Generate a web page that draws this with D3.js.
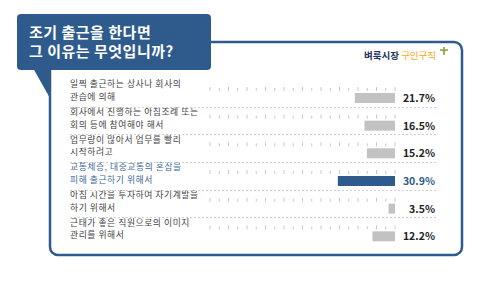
<!DOCTYPE html>
<html>
<head>
<meta charset="utf-8">
<script src="https://cdn.jsdelivr.net/npm/d3@7"></script>
<style>
body { margin:0; background:#fff; }
text { font-family:"Noto Sans CJK KR", sans-serif; }
</style>
</head>
<body>
<svg id="chart"></svg>
<script>
var titleLines = ["조기 출근을 한다면", "그 이유는 무엇입니까?"]
var labelLines = [
    ["일찍 출근하는 상사나 회사의", "관습에 의해"],
    ["회사에서 진행하는 아침조례 또는", "회의 등에 참여해야 해서"],
    ["업무량이 많아서 업무를 빨리", "시작하려고"],
    ["교통체증, 대중교통의 혼잡을", "피해 출근하기 위해서"],
    ["아침 시간을 투자하여 자기계발을", "하기 위해서"],
    ["근태가 좋은 직원으로의 이미지", "관리를 위해서"]
]
var values = [21.7, 16.5, 15.2, 30.9, 3.5, 12.2]
var highlight = [false, false, false, true, false, false]
var tickValues = d3.range(0, 101, 5)

var screen = {width:480, height:283}
var blue = "#2f5b8c"

var svg = d3.select("#chart")
    .attr("width", screen.width)
    .attr("height", screen.height)

// outer frame
svg.append("rect")
    .attr("x", 50).attr("y", 42)
    .attr("width", 412).attr("height", 213)
    .attr("rx", 8)
    .attr("fill", "#fff")
    .attr("stroke", blue)
    .attr("stroke-width", 2.5)

// speech bubble title
svg.append("path")
    .attr("d", "M33,68 L51,68 L51,100 Z")
    .attr("fill", blue)
svg.append("rect")
    .attr("x", 17).attr("y", 14)
    .attr("width", 194).attr("height", 56)
    .attr("rx", 4)
    .attr("fill", blue)

svg.selectAll(".title")
    .data(titleLines)
    .enter()
    .append("text")
    .attr("class", "title")
    .attr("x", 29)
    .attr("y", function(d, i) { return 38 + i * 19 })
    .attr("fill", "#fff")
    .attr("font-size", 15)
    .attr("font-weight", "bold")
    .attr("letter-spacing", 0.5)
    .text(function(d) { return d })

// logo
var logo = svg.append("text")
    .attr("x", 364).attr("y", 59)
    .attr("font-size", 9.5)
    .attr("font-weight", "bold")
logo.append("tspan").attr("fill", "#23325e").text("벼룩시장 ")
logo.append("tspan").attr("fill", "#f2a71b").attr("font-weight", "normal").text("구인구직")
svg.append("path")
    .attr("d", "M444,47 L444,55 M440,50 L448,50")
    .attr("stroke", "#6aa84f").attr("stroke-width", 1.5)
svg.append("circle").attr("cx", 444).attr("cy", 51).attr("r", 1.5).attr("fill", "#e0902a")

// scales
var xScale = d3.scaleLinear()
    .domain([0, 100])
    .range([395, 210])

var yScale = d3.scaleBand()
    .domain(d3.range(values.length))
    .range([79, 245])

var rows = svg.selectAll(".row")
    .data(values)
    .enter()
    .append("g")
    .attr("class", "row")
    .attr("transform", function(d, i) { return "translate(0," + yScale(i) + ")" })

// tick marks
rows.each(function(d, i) {
    d3.select(this).selectAll("line.tick")
        .data(tickValues)
        .enter()
        .append("line")
        .attr("class", "tick")
        .attr("x1", function(t) { return xScale(t) })
        .attr("x2", function(t) { return xScale(t) })
        .attr("y1", function(t, j) { return j % 2 == 0 ? 8 : 9 })
        .attr("y2", 12)
        .attr("stroke", "#c8c8c8")
        .attr("stroke-width", 1)
})

// bars
rows.append("rect")
    .attr("x", function(d) { return xScale(d) })
    .attr("y", 14)
    .attr("width", function(d) { return xScale(0) - xScale(d) })
    .attr("height", 10)
    .attr("fill", function(d, i) { return highlight[i] ? blue : "#c2c2c2" })

// values
rows.append("text")
    .attr("x", 435)
    .attr("y", 23)
    .attr("text-anchor", "end")
    .attr("font-size", 10.5)
    .attr("font-weight", "bold")
    .attr("font-family", "Liberation Sans, Arial, sans-serif")
    .attr("fill", function(d, i) { return highlight[i] ? blue : "#222" })
    .text(function(d) { return d.toFixed(1) + "%" })

// labels, two lines each
rows.each(function(d, i) {
    d3.select(this).selectAll("text.label")
        .data(labelLines[i])
        .enter()
        .append("text")
        .attr("class", "label")
        .attr("x", 70)
        .attr("y", function(t, j) { return 8.3 + j * 12.8 })
        .attr("font-size", 8.8)
        .attr("letter-spacing", 0.55)
        .attr("font-family", "'Liberation Sans', 'Noto Sans CJK KR', sans-serif")
        .attr("fill", highlight[i] ? "#3d6a9a" : "#444")
        .text(function(t) { return t })
})

// separators
svg.selectAll(".sep")
    .data(d3.range(1, values.length))
    .enter()
    .append("line")
    .attr("class", "sep")
    .attr("x1", 70).attr("x2", 437)
    .attr("y1", function(i) { return Math.round(yScale(i)) + 0.5 })
    .attr("y2", function(i) { return Math.round(yScale(i)) + 0.5 })
    .attr("stroke", "#cfcfcf")
    .attr("stroke-dasharray", "2,2")
</script>
</body>
</html>
